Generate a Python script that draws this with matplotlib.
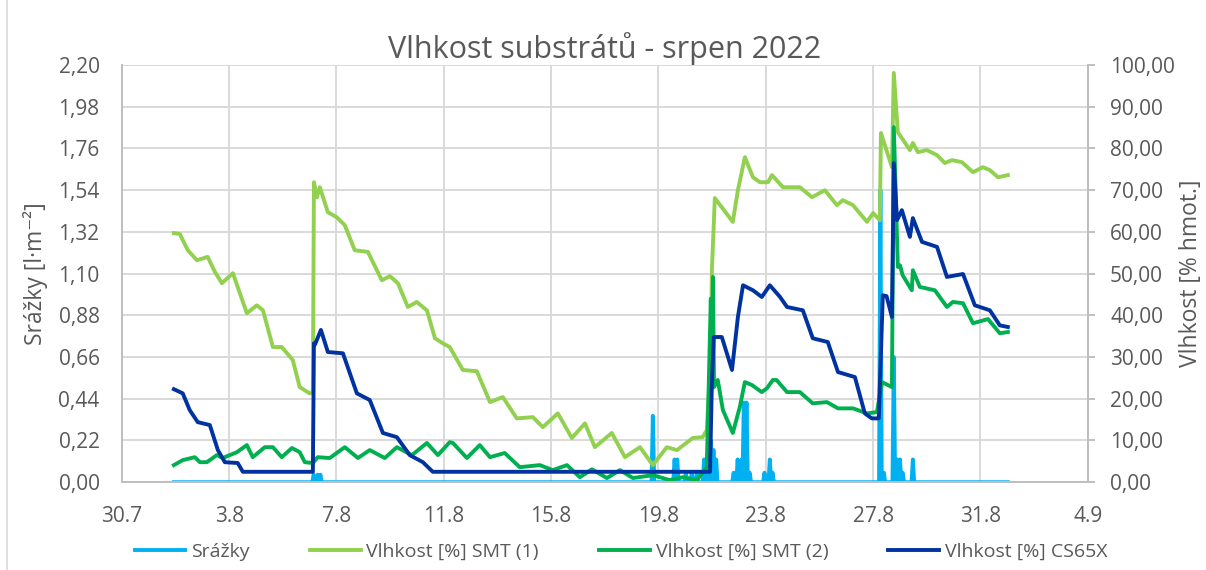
import numpy as np
import matplotlib
matplotlib.use("Agg")
import matplotlib.pyplot as plt
from matplotlib.lines import Line2D

# ---------------------------------------------
# data (x = days since 30.7.2022)
# ---------------------------------------------
tick_days = [0, 4, 8, 12, 16, 20, 24, 28, 32, 36]
tick_labels = ["30.7", "3.8", "7.8", "11.8", "15.8", "19.8", "23.8", "27.8", "31.8", "4.9"]

# Srážky [l/m2] - spikes on a zero baseline
rain_start, rain_end = 1.94, 33.02
rain_days = [7.15, 7.3, 7.4, 19.79, 20.6, 20.7, 21.02, 21.24, 21.43, 21.7, 21.84, 21.95,
             22.05, 22.15, 22.8, 22.95, 23.1, 23.18, 23.28, 23.4, 23.95, 24.15, 24.25,
             28.27, 28.4, 28.77, 28.9, 29.0, 29.1, 29.48]
rain_vals = [0.04, 0.04, 0.04, 0.35, 0.12, 0.12, 0.05, 0.05, 0.05, 0.12, 0.17, 0.22,
             0.17, 0.12, 0.05, 0.12, 0.12, 0.42, 0.42, 0.05, 0.05, 0.12, 0.05,
             1.54, 0.05, 0.66, 0.12, 0.12, 0.05, 0.12]

# Vlhkost [%] SMT (1)
smt1_t = [1.94, 2.16, 2.46, 2.8, 3.2, 3.47, 3.73, 4.14, 4.66, 5.03, 5.26, 5.63, 5.96, 6.37,
          6.63, 7.0, 7.12, 7.16, 7.27, 7.38, 7.68, 8.01, 8.31, 8.68, 9.17, 9.69, 9.99, 10.29,
          10.66, 10.99, 11.37, 11.67, 11.96, 12.22, 12.71, 13.23, 13.72, 14.2, 14.72, 15.32,
          15.69, 16.25, 16.77, 17.26, 17.63, 18.26, 18.75, 19.31, 19.79, 20.31, 20.69, 21.28,
          21.65, 21.8, 21.95, 21.99, 22.1, 22.77, 22.96, 23.22, 23.52, 23.78, 24.08, 24.23,
          24.64, 24.8, 25.27, 25.72, 26.2, 26.65, 26.87, 27.25, 27.77, 28.0, 28.25, 28.29,
          28.7, 28.77, 28.92, 29.37, 29.48, 29.67, 30.0, 30.38, 30.67, 30.94, 31.31, 31.72,
          32.09, 32.35, 32.65, 33.02]
smt1_v = [59.7, 59.5, 55.6, 53.2, 54.0, 50.4, 47.7, 50.1, 40.5, 42.4, 41.2, 32.4, 32.4, 29.3,
          22.8, 21.3, 21.5, 71.9, 68.3, 70.7, 64.7, 63.5, 61.6, 55.6, 55.2, 48.4, 49.4, 47.7,
          42.0, 43.2, 41.2, 34.5, 33.3, 32.4, 26.9, 26.6, 19.2, 20.4, 15.3, 15.6, 13.2, 16.5,
          10.6, 14.1, 8.4, 11.8, 6.0, 8.4, 4.1, 8.4, 7.7, 10.6, 10.8, 12.5, 30.0, 50.8, 68.1,
          62.4, 70.0, 77.9, 73.1, 71.9, 71.9, 73.6, 70.7, 70.7, 70.7, 68.3, 70.0, 66.4, 67.6,
          66.4, 62.4, 64.5, 62.8, 83.7, 75.5, 98.1, 83.9, 79.6, 81.3, 79.1, 79.6, 78.4, 76.5,
          77.2, 76.7, 74.3, 75.5, 74.8, 73.1, 73.6]

# Vlhkost [%] SMT (2)
smt2_t = [1.94, 2.27, 2.72, 2.91, 3.17, 3.54, 3.76, 4.29, 4.66, 4.88, 5.33, 5.63, 5.96, 6.34,
          6.63, 6.82, 7.12, 7.3, 7.75, 8.31, 8.8, 9.24, 9.8, 10.25, 10.81, 11.37, 11.78,
          12.22, 12.34, 12.86, 13.34, 13.72, 14.27, 14.83, 15.58, 16.06, 16.59, 17.07, 17.52,
          18.08, 18.56, 19.05, 19.79, 20.42, 20.91, 21.43, 21.8, 21.95, 22.0, 22.03, 22.07,
          22.21, 22.4, 22.77, 23.03, 23.22, 23.48, 23.85, 24.04, 24.26, 24.4, 24.79, 25.27,
          25.75, 26.28, 26.69, 27.25, 27.77, 28.14, 28.33, 28.7, 28.77, 28.92, 29.0, 29.1,
          29.44, 29.48, 29.74, 30.3, 30.75, 30.97, 31.35, 31.72, 32.28, 32.72, 33.02]
smt2_v = [4.1, 5.3, 6.0, 4.8, 4.8, 6.5, 5.8, 7.2, 8.9, 6.0, 8.4, 8.4, 6.0, 8.2, 7.2, 4.8, 4.6,
          6.0, 5.8, 8.4, 5.8, 7.7, 5.8, 8.4, 6.5, 9.4, 6.5, 9.6, 9.4, 5.8, 8.9, 6.0, 7.0, 3.6,
          4.1, 2.9, 4.1, 1.2, 3.1, 1.0, 2.9, 1.0, 1.7, 0.5, 1.2, 0.5, 3.6, 44.0, 25.0, 49.2,
          22.8, 24.5, 17.3, 11.8, 18.0, 24.0, 23.3, 21.6, 22.5, 24.5, 24.5, 21.6, 21.6, 18.9,
          19.2, 17.7, 17.7, 16.5, 16.8, 24.0, 22.8, 85.1, 51.6, 52.0, 49.6, 46.0, 50.8, 46.8,
          46.0, 42.0, 43.2, 42.9, 38.1, 39.1, 35.7, 36.0]

# Vlhkost [%] CS65X
cs_t = [1.94, 2.27, 2.53, 2.83, 3.28, 3.58, 3.84, 4.32, 4.51, 7.12, 7.16, 7.2, 7.42, 7.68,
        8.24, 8.76, 9.24, 9.73, 10.25, 10.73, 11.22, 11.59, 21.92, 21.99, 22.06, 22.36,
        22.74, 22.96, 23.15, 23.52, 23.85, 24.15, 24.53, 24.79, 25.38, 25.75, 26.31, 26.69,
        27.32, 27.69, 27.95, 28.21, 28.36, 28.5, 28.7, 28.77, 28.89, 29.07, 29.37, 29.48,
        29.82, 30.38, 30.75, 31.35, 31.79, 32.35, 32.72, 33.02]
cs_v = [22.3, 21.3, 17.3, 14.4, 13.7, 7.7, 4.8, 4.6, 2.5, 2.5, 33.3, 33.0, 36.5, 31.2, 30.9,
        21.3, 19.7, 11.8, 10.8, 6.5, 4.8, 2.5, 2.5, 23.7, 34.8, 34.8, 26.9, 39.6, 47.2, 46.0,
        44.4, 47.2, 44.4, 42.0, 41.2, 34.5, 33.6, 26.4, 25.2, 16.5, 15.3, 15.3, 44.8, 44.6,
        39.6, 76.5, 62.8, 65.2, 58.8, 63.3, 57.6, 56.4, 49.2, 49.9, 42.4, 41.2, 37.6, 37.2]

# build rain line: zero baseline with narrow spikes
rain_t = [rain_start]
rain_y = [0.0]
for d, v in zip(rain_days, rain_vals):
    rain_t += [d - 0.05, d, d + 0.05]
    rain_y += [0.0, v, 0.0]
rain_t.append(rain_end)
rain_y.append(0.0)

# ---------------------------------------------
# plot
# ---------------------------------------------
plt.rcParams['font.family'] = ['Open Sans', 'DejaVu Sans']
txt = '#595959'
c_rain, c_smt1, c_smt2, c_cs = '#00B0F0', '#92D050', '#00B050', '#0033A0'

fig = plt.figure(figsize=(12.06, 5.70), dpi=100)
ax = fig.add_axes([0.101, 0.154, 0.801, 0.732])
ax2 = ax.twinx()

lw = 2.8
l0, = ax.plot(rain_t, rain_y, color=c_rain, lw=lw, solid_joinstyle='round')
l1, = ax2.plot(smt1_t, smt1_v, color=c_smt1, lw=lw, solid_joinstyle='round')
l2, = ax2.plot(smt2_t, smt2_v, color=c_smt2, lw=lw, solid_joinstyle='round')
l3, = ax2.plot(cs_t, cs_v, color=c_cs, lw=lw, solid_joinstyle='round')

ax.set_xlim(0, 36)
ax.set_ylim(0, 2.2)
ax2.set_ylim(0, 100)

ax.set_xticks(tick_days)
ax.set_xticklabels(tick_labels)
ax.set_yticks(np.arange(0, 2.21, 0.22))
ax.set_yticklabels([f"{v:.2f}".replace('.', ',') for v in np.arange(0, 2.21, 0.22)])
ax2.set_yticks(np.arange(0, 101, 10))
ax2.set_yticklabels([f"{v:.2f}".replace('.', ',') for v in np.arange(0, 101, 10)])

ax.grid(True, color='#D9D9D9', lw=1.4)
ax.set_axisbelow(True)
for a in (ax, ax2):
    a.spines['top'].set_visible(False)
    for s in ('left', 'right', 'bottom'):
        a.spines[s].set_color('#BFBFBF')
        a.spines[s].set_linewidth(1.4)
ax.tick_params(axis='y', length=0, labelsize=15, colors=txt, pad=16)
ax.tick_params(axis='x', length=0, labelsize=15, colors=txt, pad=17)
ax2.tick_params(axis='y', length=5, width=1.4, color='#BFBFBF', labelsize=15,
                labelcolor=txt, pad=11)

ax.set_ylabel("Srážky [l·m⁻²]", fontsize=16.5, color=txt, labelpad=7)
ax2.set_ylabel("Vlhkost [% hmot.]", fontsize=16.5, color=txt, labelpad=3)
ax.set_title("Vlhkost substrátů - srpen 2022", fontsize=22, color=txt, pad=4)

fig.legend([l0, l1, l2, l3],
           ["Srážky", "Vlhkost [%] SMT (1)", "Vlhkost [%] SMT (2)", "Vlhkost [%] CS65X"],
           loc='center', bbox_to_anchor=(0.515, 0.032), ncol=4, frameon=False,
           fontsize=14, labelcolor=txt, handlelength=2.6, handletextpad=0.3,
           columnspacing=3.1)

# outer chart border on the left
fig.add_artist(Line2D([0.006, 0.006], [0, 1], color='#D9D9D9', lw=1.2,
                      transform=fig.transFigure))

fig.savefig("out.png", dpi=100)
